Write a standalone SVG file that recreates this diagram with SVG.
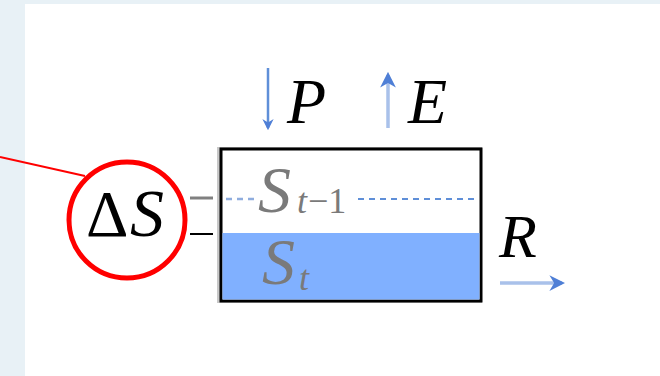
<svg xmlns="http://www.w3.org/2000/svg" width="660" height="376" viewBox="0 0 660 376">
<style>
.m{font-family:"Liberation Serif","Times New Roman",serif;font-style:italic}
.u{font-family:"Liberation Serif","Times New Roman",serif}
.g{fill:#7a7a7a}
</style>
<defs>
<marker id="ah" viewBox="0 0 10 10" refX="8" refY="5" markerWidth="4.5" markerHeight="4.5" orient="auto"><path d="M0,0L10,5L0,10L3,5z" fill="#4f7fd6"/></marker>
</defs>
<rect width="660" height="376" fill="#e8f1f6"/>
<rect x="25" y="4" width="635" height="372" fill="#fff"/>
<g id="connectors">
<line x1="0" y1="157" x2="85" y2="176" stroke="#f00" stroke-width="2"/>
<line x1="268" y1="68" x2="268" y2="128" stroke="#5f8fd8" stroke-width="2.5" marker-end="url(#ah)"/>
<line x1="388" y1="128" x2="388" y2="75" stroke="#a9c1ea" stroke-width="3.5" marker-end="url(#ah)"/>
<line x1="500" y1="283" x2="562" y2="283" stroke="#a9c1ea" stroke-width="3.5" marker-end="url(#ah)"/>
</g>
<g id="storage">
<rect x="217" y="147" width="265" height="156" fill="#c8c8c8"/>
<rect x="221" y="149" width="260" height="152" fill="#fff" stroke="#000" stroke-width="3"/>
<rect x="222.5" y="233" width="257" height="66.5" fill="#80b0ff"/>
<line x1="226" y1="199" x2="256" y2="199" stroke="#8fadde" stroke-width="2.5" stroke-dasharray="6,5"/>
<line x1="358" y1="199" x2="476" y2="199" stroke="#5f8fd8" stroke-width="2" stroke-dasharray="6,5"/>
<text class="m g" x="258" y="212" font-size="66">S</text>
<text class="m g" x="297" y="213" font-size="36">t</text>
<text class="u g" x="308" y="213" font-size="36">−1</text>
<text class="m g" x="262" y="284" font-size="66">S</text>
<text class="m g" x="299" y="290" font-size="36">t</text>
</g>
<g id="deltaS">
<circle cx="127" cy="220" r="58" fill="none" stroke="#f00" stroke-width="5"/>
<text class="u" x="86" y="236" font-size="66">Δ</text>
<text class="m" x="130" y="236" font-size="68">S</text>
<line x1="190" y1="198" x2="213" y2="198" stroke="#808080" stroke-width="3"/>
<line x1="190" y1="234" x2="213" y2="234" stroke="#000" stroke-width="2"/>
</g>
<g id="P"><text class="m" x="287" y="123" font-size="64">P</text></g>
<g id="E"><text class="m" x="408" y="123" font-size="64">E</text></g>
<g id="R"><text class="m" x="499" y="257" font-size="62">R</text></g>
</svg>
